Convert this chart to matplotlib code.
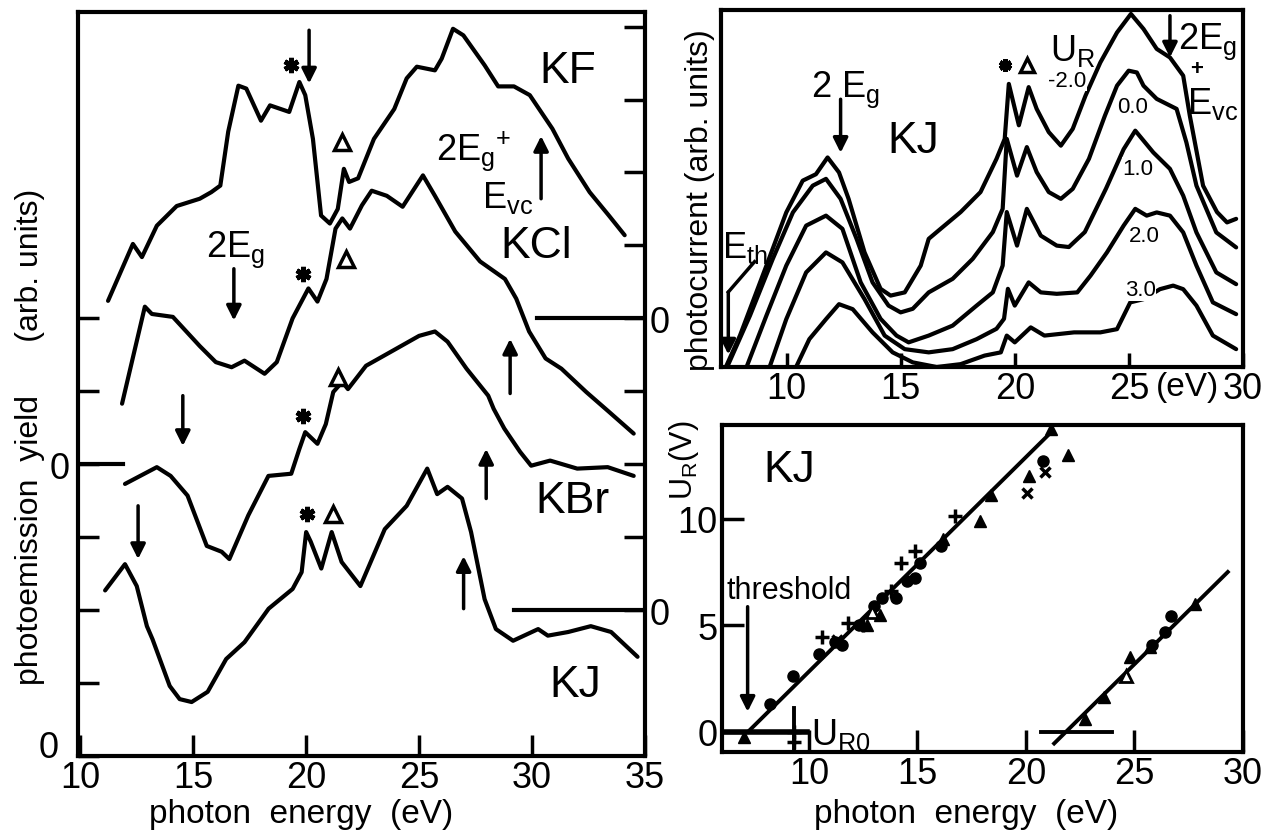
import matplotlib
matplotlib.use("Agg")
import matplotlib.pyplot as plt

FAM = ['Liberation Sans', 'DejaVu Sans']
plt.rcParams['font.family'] = FAM
plt.rcParams['mathtext.fontset'] = 'custom'
plt.rcParams['mathtext.rm'] = 'Liberation Sans'
plt.rcParams['mathtext.it'] = 'Liberation Sans'
plt.rcParams['mathtext.sf'] = 'Liberation Sans'

# ---------------- left panel: photoemission yield ----------------
kf_E = [11.23, 12.33, 12.73, 13.39, 14.27, 15.29, 15.8, 16.2, 16.55, 17.0, 17.35, 18.0, 18.4, 19.25,
        19.7, 19.96, 20.3, 20.66, 21.05, 21.4, 21.67, 21.9, 22.3, 23.0, 23.9, 24.45, 24.9, 25.7, 26.0,
        26.5, 26.96, 27.9, 28.5, 29.2, 29.9, 30.9, 31.6, 32.55, 33.4, 34.1]
kf_Y = [6.24, 7.02, 6.84, 7.27, 7.54, 7.64, 7.73, 7.82, 8.56, 9.19, 9.15, 8.71, 8.92, 8.83, 9.24,
        9.06, 8.46, 7.41, 7.30, 7.5, 8.05, 7.87, 7.92, 8.46, 8.87, 9.29, 9.45, 9.40, 9.56, 9.97, 9.88,
        9.47, 9.18, 9.18, 9.06, 8.6, 8.19, 7.73, 7.41, 7.14]

kcl_E = [11.85, 12.86, 13.17, 14.1, 15.29, 16.0, 16.7, 17.27, 18.16, 18.7, 19.4, 20.1, 20.5, 20.9,
         21.3, 21.6, 21.94, 22.47, 22.9, 23.57, 24.27, 25.17, 25.7, 26.6, 27.7, 28.8, 29.3, 29.87,
         30.6, 31.3, 32.4, 33.4, 34.5]
kcl_Y = [4.83, 6.16, 6.06, 6.02, 5.62, 5.4, 5.33, 5.42, 5.24, 5.4, 6.0, 6.41, 6.23, 6.54, 7.23, 7.37,
         7.23, 7.55, 7.75, 7.68, 7.53, 7.96, 7.68, 7.19, 6.78, 6.54, 6.27, 5.82, 5.45, 5.31, 4.99,
         4.72, 4.42]

kbr_E = [11.98, 13.39, 14.0, 14.75, 15.6, 16.26, 16.6, 17.44, 18.33, 19.34, 19.7, 19.96, 20.5, 20.87,
         21.2, 21.6, 21.85, 22.65, 23.74, 25.0, 25.7, 26.26, 27.1, 28.06, 28.3, 28.77, 29.47, 29.96,
         30.8, 32.0, 33.35, 34.5]
kbr_Y = [3.73, 3.96, 3.84, 3.57, 2.88, 2.8, 2.7, 3.3, 3.84, 3.87, 4.21, 4.44, 4.28, 4.55, 4.99, 5.13,
         5.03, 5.35, 5.54, 5.76, 5.82, 5.68, 5.31, 4.94, 4.76, 4.49, 4.17, 3.98, 4.05, 3.94, 3.96, 3.84]

kj_E = [11.1, 11.98, 12.5, 12.95, 13.2, 13.96, 14.4, 14.93, 15.64, 16.46, 17.27, 18.34, 19.4, 19.8,
        20.0, 20.2, 20.67, 21.13, 21.57, 22.4, 23.48, 24.45, 25.36, 25.8, 26.26, 26.9, 27.3, 27.9,
        28.4, 29.16, 30.27, 30.7, 31.6, 32.6, 33.5, 34.67]
kj_Y = [2.27, 2.63, 2.33, 1.78, 1.6, 0.96, 0.78, 0.74, 0.88, 1.33, 1.56, 2.02, 2.29, 2.52, 3.07, 2.94,
        2.57, 3.07, 2.66, 2.33, 3.11, 3.43, 3.94, 3.59, 3.69, 3.53, 3.07, 2.15, 1.74, 1.58, 1.74,
        1.65, 1.7, 1.78, 1.7, 1.36]

left_xticks = [10, 15, 20, 25, 30, 35]
left_yticks = [0, 1, 2, 3, 4, 5, 6]
left_ylabels = ['', '', '', '', '0', '', '']
right_yticks = [2, 3, 4, 5, 6, 7, 8, 9, 10]
right_ylabels = ['0', '', '', '', '0', '', '', '', '']

# ---------------- top right: photocurrent of KJ vs U_R ----------------
ur_labels = ['-2.0', '0.0', '1.0', '2.0', '3.0']
pcA_E = [7.3, 7.96, 9.12, 9.99, 10.71, 11.29, 11.8, 12.3, 12.72, 13.42, 14.12, 14.56, 15.18, 15.88, 16.23,
         16.75, 17.63, 18.5, 19.2, 19.56, 19.74, 20.18, 20.61, 20.96, 21.49, 22.02, 22.54, 23.1,
         23.75, 24.48, 25.09, 25.64, 26.22, 26.8, 27.38, 27.67, 28.25, 28.86, 29.3, 29.7]
pcA_U = [-0.06, 0.88, 2.84, 4.33, 5.22, 5.4, 5.87, 5.45, 4.71, 3.21, 2.19, 2.0, 2.09, 2.84, 3.59,
         3.87, 4.34, 4.9, 5.83, 6.39, 7.93, 6.77, 7.84, 7.23, 6.58, 6.2, 6.67, 7.6, 8.53, 9.37,
         9.89, 9.47, 8.91, 8.67, 8.16, 7.04, 5.08, 4.34, 4.05, 4.15]
pcB_E = [7.4, 8.4, 9.4, 10.28, 11.15, 11.73, 12.37, 13.07, 13.77, 14.47, 15.0, 15.53, 16.23, 17.28,
         18.16, 19.04, 19.47, 19.65, 20.1, 20.53, 20.96, 21.49, 22.02, 22.54, 23.25, 23.95, 24.48,
         24.99, 25.35, 25.64, 26.22, 27.09, 27.52, 27.96, 28.83, 29.7]
pcB_U = [0.0, 1.44, 3.03, 4.33, 5.08, 5.27, 4.71, 3.59, 2.37, 1.72, 1.53, 1.63, 2.09, 2.47, 3.03,
         3.78, 4.43, 6.39, 5.36, 6.16, 5.46, 4.9, 4.71, 4.99, 5.83, 7.04, 7.88, 8.3, 8.25, 7.88,
         7.51, 7.23, 6.29, 5.08, 3.77, 3.35]
pcC_E = [8.25, 9.12, 9.99, 10.86, 11.73, 12.45, 13.25, 14.12, 14.82, 15.35, 16.23, 17.28, 18.33,
         19.04, 19.47, 19.65, 20.1, 20.53, 21.14, 21.84, 22.37, 23.07, 24.0, 24.77, 25.28, 26.07,
         26.8, 27.38, 27.96, 28.83, 29.7]
pcC_U = [0.0, 1.44, 2.84, 3.96, 4.24, 3.87, 2.37, 1.35, 0.88, 0.69, 0.88, 1.16, 1.72, 2.09, 2.84,
         4.34, 3.4, 4.43, 3.68, 3.4, 3.36, 3.78, 5.0, 6.1, 6.62, 6.01, 5.55, 4.8, 3.77, 2.65, 2.32]
pcD_E = [9.26, 9.99, 10.86, 11.73, 12.45, 13.42, 14.3, 15.18, 16.23, 17.28, 18.33, 19.2, 19.53, 19.7,
         20.0, 20.61, 21.14, 21.84, 22.74, 23.32, 24.04, 24.77, 25.28, 25.78, 26.22, 26.8, 27.38,
         27.96, 28.68, 29.7]
pcD_U = [0.0, 1.34, 2.65, 3.21, 2.93, 1.9, 0.88, 0.5, 0.41, 0.5, 0.78, 1.07, 1.35, 2.19, 1.72, 2.37,
         2.09, 2.05, 2.09, 2.56, 3.21, 3.96, 4.43, 4.24, 4.33, 4.24, 3.77, 2.84, 1.81, 1.48]
pcE_E = [10.42, 11.0, 11.73, 12.3, 12.9, 13.77, 14.65, 15.53, 16.58, 17.63, 18.68, 19.39, 19.65,
         20.0, 20.7, 21.3, 22.6, 23.75, 24.48, 25.06, 25.64, 26.36, 26.94, 27.38, 27.96, 28.68, 29.7]
pcE_U = [0.0, 0.78, 1.34, 1.76, 1.62, 0.97, 0.41, 0.13, 0.0, 0.08, 0.32, 0.41, 0.88, 0.69, 1.11,
         0.88, 0.97, 0.97, 1.06, 1.81, 1.9, 2.18, 2.28, 2.18, 1.72, 0.88, 0.5]
tr_xticks = [10, 15, 20, 25, 30]

# ---------------- bottom right: U_R vs photon energy ----------------
circ_E = [8.2, 9.25, 10.45, 11.2, 11.55, 12.3, 13.0, 13.35, 14.0, 14.5, 14.9, 15.1, 16.1, 20.8,
          25.8, 26.4, 26.7]
circ_U = [1.3, 2.6, 3.65, 4.2, 4.05, 5.0, 5.9, 6.3, 6.3, 7.1, 7.2, 7.9, 8.7, 12.7, 4.05, 4.7, 5.45]
tri_E = [7.0, 12.7, 13.3, 16.2, 17.9, 18.4, 20.15, 21.95, 21.15, 22.7, 23.6, 24.8, 25.7, 27.8]
tri_U = [-0.25, 5.0, 5.5, 9.05, 9.9, 11.1, 12.0, 13.0, 14.2, 0.6, 1.65, 3.5, 4.0, 6.0]
otri_E = [24.6, 12.9]
otri_U = [2.6, 5.6]
plus_E = [10.6, 11.8, 12.5, 13.8, 14.25, 14.9, 16.75, 9.3, 9.3]
plus_U = [4.45, 5.1, 5.0, 6.6, 7.9, 8.5, 10.15, 0.0, -0.5]
cross_E = [20.05, 20.9, 11.3]
cross_U = [11.2, 12.2, 4.3]
fit1_E = [7.2, 21.2]
fit1_U = [0.0, 14.1]
fit2_E = [21.3, 29.3]
fit2_U = [-0.55, 7.5]
br_xticks = [10, 15, 20, 25, 30]
br_yticks = [0, 5, 10]

LW = 3.0
SLW = 3.0
FS_TICK = 26
FS_LAB = 32
FS_TXT = 26

fig = plt.figure(figsize=(12.72, 8.37), dpi=100)

def style(ax):
    for s in ax.spines.values():
        s.set_linewidth(SLW)

def arrow(ax, x, y0, y1, lw=2.5, ms=22):
    ax.annotate('', xy=(x, y1), xytext=(x, y0),
                arrowprops=dict(arrowstyle='-|>', lw=lw, color='k', mutation_scale=ms,
                                shrinkA=0, shrinkB=0))

def star(ax, x, y, s=11):
    ax.plot([x], [y], marker=(6, 2, 0), ms=s, mew=3.5, color='k')

def tri(ax, x, y, s=12):
    ax.plot([x], [y], marker='^', ms=s, mfc='white', mec='k', mew=2.5)

# ================= left panel =================
ax1 = fig.add_axes([78/1272, 1-757/837, 567/1272, 744/837])
style(ax1)
ax1.set_xlim(9.9, 34.95)
ax1.set_ylim(0, 10.2)
for E, Y in [(kf_E, kf_Y), (kcl_E, kcl_Y), (kbr_E, kbr_Y), (kj_E, kj_Y)]:
    ax1.plot(E, Y, color='k', lw=LW, solid_joinstyle='round', solid_capstyle='round')
ax1.set_xticks(left_xticks)
ax1.set_xticklabels([str(t) for t in left_xticks])
ax1.set_yticks(left_yticks)
ax1.set_yticklabels(left_ylabels)
ax1.tick_params(axis='x', direction='in', length=15, width=2.5, labelsize=FS_TICK, pad=3)
ax1.tick_params(axis='y', direction='in', length=15, width=2.5, labelsize=FS_TICK, pad=6)
# bottom-left zero label (sits just above the "10")
ax1.text(-0.035, 0.012, '0', transform=ax1.transAxes, fontsize=FS_TICK, ha='right', va='center')
ax1r = ax1.twinx()
ax1r.set_ylim(0, 10.2)
ax1r.set_yticks(right_yticks)
ax1r.set_yticklabels(right_ylabels)
ax1r.tick_params(axis='y', direction='in', length=15, width=2.5, labelsize=FS_TICK, pad=3)
for s in ax1r.spines.values():
    s.set_visible(False)

# zero reference lines
ax1.plot([9.9, 11.9], [4, 4], color='k', lw=LW)
ax1.plot([30.2, 34.95], [6, 6], color='k', lw=LW)
ax1.plot([29.2, 34.95], [2, 2], color='k', lw=LW)

ax1.text(31.6, 9.4, 'KF', fontsize=FS_LAB, ha='center', va='center')
ax1.text(30.2, 7.0, 'KCl', fontsize=FS_LAB, ha='center', va='center')
ax1.text(31.8, 3.5, 'KBr', fontsize=FS_LAB, ha='center', va='center')
ax1.text(31.9, 0.98, 'KJ', fontsize=FS_LAB, ha='center', va='center')
ax1.text(27.4, 8.3, r'2E$_{\mathrm{g}}$$^{+}$', fontsize=FS_TXT, ha='center', va='center')
ax1.text(28.9, 7.67, r'E$_{\mathrm{vc}}$', fontsize=FS_TXT, ha='center', va='center')
ax1.text(16.85, 6.95, r'2E$_{\mathrm{g}}$', fontsize=FS_TXT, ha='center', va='center')

arrow(ax1, 20.13, 9.95, 9.22)
arrow(ax1, 30.4, 7.64, 8.5)
arrow(ax1, 16.8, 6.68, 5.97)
arrow(ax1, 29.03, 4.97, 5.72)
arrow(ax1, 14.54, 4.94, 4.25)
arrow(ax1, 27.97, 3.53, 4.21)
arrow(ax1, 12.56, 3.43, 2.7)
arrow(ax1, 26.97, 2.02, 2.74)

star(ax1, 19.34, 9.47); tri(ax1, 21.58, 8.42)
star(ax1, 19.87, 6.61); tri(ax1, 21.76, 6.82)
star(ax1, 19.87, 4.66); tri(ax1, 21.4, 5.2)
star(ax1, 20.05, 3.32); tri(ax1, 21.2, 3.32)

fig.text(301/1272, 1-815/837, 'photon  energy  (eV)', fontsize=24, ha='center', va='center')
fig.text(30/1272, 1-437/837, 'photoemission  yield      (arb. units)', fontsize=23,
         ha='center', va='center', rotation=90)

# ================= top right panel =================
ax2 = fig.add_axes([721/1272, 1-368/837, 522/1272, 357/837])
style(ax2)
ax2.set_xlim(7.13, 29.83)
ax2.set_ylim(0, 10)
curves = [(pcA_E, pcA_U), (pcB_E, pcB_U), (pcC_E, pcC_U), (pcD_E, pcD_U), (pcE_E, pcE_U)]
for E, U in curves:
    ax2.plot(E, U, color='k', lw=LW, solid_joinstyle='round', solid_capstyle='round')
ax2.set_yticks([])
ax2.set_xticks(tr_xticks)
ax2.set_xticklabels([str(t) for t in tr_xticks])
ax2.tick_params(axis='x', direction='in', length=10, width=2.5, labelsize=FS_TICK, pad=3)
ax2.text(27.55, -0.12, '(eV)', fontsize=24, ha='center', va='top')
ax2.text(12.6, 7.8, r'2 E$_{\mathrm{g}}$', fontsize=FS_TXT, ha='center', va='center')
arrow(ax2, 12.37, 7.5, 6.0)
ax2.text(15.57, 6.35, 'KJ', fontsize=FS_LAB, ha='center', va='center')
star(ax2, 19.56, 8.45, s=9)
tri(ax2, 20.53, 8.45, s=10)
ax2.text(22.55, 8.87, r'U$_{\mathrm{R}}$', fontsize=FS_TXT, ha='center', va='center')
lab_pos = [(22.3, 8.03), (25.17, 7.3), (25.4, 5.57), (25.68, 3.68), (25.5, 2.16)]
for (x, y), t in zip(lab_pos, ur_labels):
    ax2.text(x, y, t, fontsize=16, ha='center', va='center',
             bbox=dict(facecolor='white', edgecolor='none', pad=0.5))
ax2.text(28.45, 9.15, r'2E$_{\mathrm{g}}$', fontsize=FS_TXT, ha='center', va='center')
ax2.text(27.95, 8.35, '+', fontsize=16, ha='center', va='center', fontweight='bold')
ax2.text(28.65, 7.4, r'E$_{\mathrm{vc}}$', fontsize=FS_TXT, ha='center', va='center')
arrow(ax2, 26.8, 9.84, 8.67)
ax2.text(7.16, 3.35, r'E$_{\mathrm{th}}$', fontsize=FS_TXT, ha='left', va='center')
ax2.plot([8.6, 7.45], [2.95, 2.1], color='k', lw=2.5)
arrow(ax2, 7.45, 2.1, 0.35)
fig.text(700/1272, 1-200/837, 'photocurrent (arb. units)', fontsize=23,
         ha='center', va='center', rotation=90)

# ================= bottom right panel =================
ax3 = fig.add_axes([722/1272, 1-753/837, 521/1272, 327/837])
style(ax3)
ax3.set_xlim(6.0, 29.7)
ax3.set_ylim(-0.95, 14.4)
ax3.plot(fit1_E, fit1_U, color='k', lw=2.8)
ax3.plot(fit2_E, fit2_U, color='k', lw=2.8)
ax3.plot([20.7, 23.95], [0, 0], color='k', lw=2.8)
ax3.plot([6.0, 9.9], [0, 0], color='k', lw=4)
ax3.plot([9.3, 9.3], [1.1, -0.95], color='k', lw=2.8)
ax3.plot(circ_E, circ_U, 'o', color='k', ms=8, ls='none')
ax3.plot(tri_E, tri_U, '^', color='k', ms=9, ls='none')
ax3.plot(otri_E, otri_U, '^', mfc='white', mec='k', mew=2, ms=9, ls='none')
ax3.plot(plus_E, plus_U, '+', color='k', ms=10, mew=2.5, ls='none')
ax3.plot(cross_E, cross_U, 'x', color='k', ms=7, mew=2.5, ls='none')
ax3.set_xticks(br_xticks)
ax3.set_xticklabels([str(t) for t in br_xticks])
ax3.set_yticks(br_yticks)
ax3.set_yticklabels([str(t) for t in br_yticks])
ax3.tick_params(direction='in', length=16, width=2.5, labelsize=FS_TICK, pad=3)
ax3.text(9.1, 12.3, 'KJ', fontsize=FS_LAB, ha='center', va='center')
ax3.text(6.2, 6.65, 'threshold', fontsize=22, ha='left', va='center')
arrow(ax3, 7.18, 5.87, 0.94)
ax3.text(10.1, -0.1, r'U$_{\mathrm{R0}}$', fontsize=FS_TXT, ha='left', va='center')
fig.text(966/1272, 1-815/837, 'photon  energy  (eV)', fontsize=24, ha='center', va='center')
fig.text(684/1272, 1-460/837, r'U$_{\mathrm{R}}$(V)', fontsize=22, ha='center', va='center',
         rotation=90)

fig.savefig('out.png', dpi=100)
